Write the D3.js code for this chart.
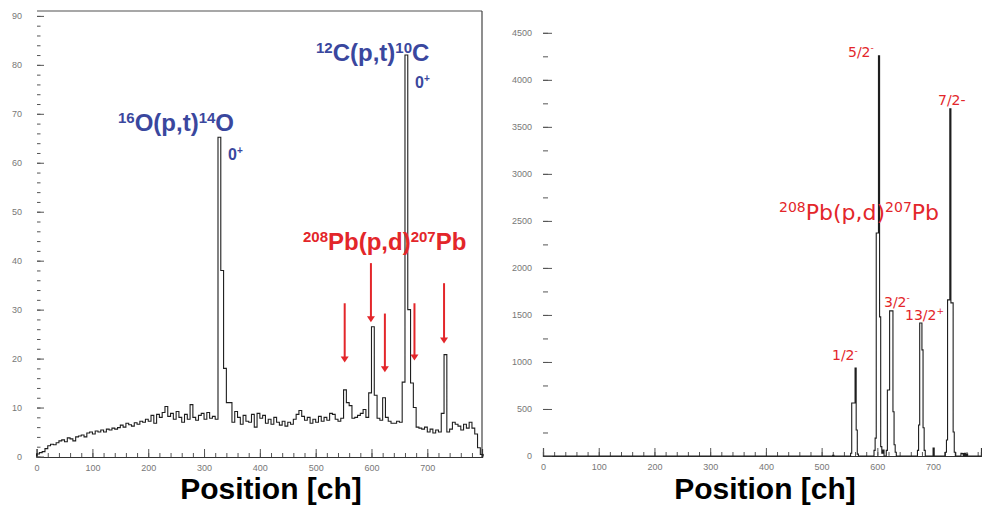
<!DOCTYPE html>
<html>
<head>
<meta charset="utf-8">
<script src="https://cdn.jsdelivr.net/npm/d3@7/dist/d3.min.js"></script>
<style>
  html, body { margin: 0; padding: 0; background: #fff; }
  svg { display: block; }
</style>
</head>
<body>
<svg id="chart" width="982" height="507"></svg>
<script>
// ---------------- DATA ----------------
// Left spectrum: counts per 5-channel bin, channels 0..800
const leftBinWidth = 5;
const leftCounts = [
  0.5, 0.8, 1.0, 1.6, 2.2, 2.5, 2.4, 2.8, 3.2, 3.4,
  3.0, 3.8, 3.6, 3.2, 4.0, 4.2, 4.4, 4.0, 4.8, 5.0,
  4.6, 5.2, 5.0, 5.4, 5.0, 5.6, 5.4, 5.8, 5.6, 5.9,
  6.4, 6.0, 6.8, 6.5, 6.2, 6.9, 6.6, 7.2, 7.0, 7.6,
  7.2, 8.4, 6.8, 8.6, 8.0, 9.0, 10.2, 8.2, 8.8, 7.6,
  9.2, 8.0, 7.0, 8.6, 7.6, 10.6, 8.0, 7.4, 8.4, 8.8,
  7.6, 9.0, 7.8, 8.2, 7.6, 65.2, 38.0, 18.0, 11.0, 11.0,
  7.0, 9.2, 8.0, 6.6, 8.4, 7.2, 7.0, 8.6, 6.0, 8.8,
  7.8, 8.4, 6.8, 7.6, 6.6, 8.0, 7.0, 6.4, 7.2, 6.2,
  7.0, 6.6, 7.6, 8.6, 9.4, 8.2, 7.4, 8.0, 6.8, 7.6,
  7.0, 8.2, 7.2, 8.0, 7.4, 8.8, 8.6, 7.6, 7.2, 7.8,
  13.6, 11.0, 10.4, 7.8, 8.0, 8.4, 8.8, 9.6, 8.0, 13.0,
  26.5, 12.5, 7.8, 7.4, 12.0, 8.0, 7.2, 6.8, 6.8, 7.2,
  7.0, 15.2, 82.0, 30.0, 15.0, 10.0, 6.0, 5.8, 5.6, 6.0,
  5.0, 5.6, 4.8, 5.4, 5.0, 8.8, 20.8, 5.0, 5.6, 7.0,
  6.6, 6.2, 5.4, 6.6, 5.8, 7.0, 5.8, 4.6, 1.8, 0.4
];

// Right spectrum: non-zero 2-channel bins (start channel, counts)
const rightBinWidth = 2;
const rightBinStarts = [
  520,
  552, 554, 556, 558, 560, 562, 564,
  594, 596, 598, 600, 602, 604, 606, 608,
  610,
  616, 618, 620, 622, 624, 626, 628, 630, 632,
  672, 674, 676, 678, 680, 682, 684,
  700,
  722, 724, 726, 728, 730, 732, 734, 736, 738,
  750, 752, 756, 760
];
const rightCounts = [
  8,
  30, 564, 564, 564, 936, 277, 20,
  60, 190, 2372, 2372, 4255, 1479, 100, 30,
  64,
  60, 702, 702, 1543, 1543, 1543, 470, 120, 40,
  60, 330, 1415, 1415, 1128, 300, 60,
  85,
  40, 170, 1660, 1660, 3691, 1628, 1628, 255, 40,
  30, 25, 30, 20
];

// Axis ticks
const leftXTicks = [0, 100, 200, 300, 400, 500, 600, 700];
const leftYTicks = [0, 10, 20, 30, 40, 50, 60, 70, 80, 90];
const rightXTicks = [0, 100, 200, 300, 400, 500, 600, 700];
const rightYTicks = [0, 500, 1000, 1500, 2000, 2500, 3000, 3500, 4000, 4500];

// Red arrows in left panel (channel, tail value, tip value)
const arrowChannels = [552, 599, 624, 677, 730];
const arrowTailValues = [31.3, 39.5, 29.2, 31.3, 35.4];
const arrowTipValues = [19.2, 27.4, 17.2, 19.6, 23.1];

// Labels
const axisTitle = "Position [ch]";
const rightStateLabels = [
  { parts: [["5/2", false], ["-", true]], x: 848, y: 57 },
  { parts: [["7/2-", false]], x: 938, y: 105 },
  { parts: [["3/2", false], ["-", true]], x: 884, y: 307 },
  { parts: [["13/2", false], ["+", true]], x: 905, y: 320 },
  { parts: [["1/2", false], ["-", true]], x: 832, y: 360 }
];

// ---------------- DRAW ----------------
const svg = d3.select("#chart");
const RED = "#e3262a";
const BLUE = "#3a479e";
const tickFont = "Liberation Sans, Arial, sans-serif";
const intFmt = d3.format("d");

function richText(g, x, y, parts, opt) {
  const t = g.append("text")
    .attr("x", x).attr("y", y)
    .attr("font-family", opt.family)
    .attr("font-weight", opt.weight)
    .attr("font-size", opt.size)
    .attr("fill", opt.color);
  let shift = 0;
  parts.forEach(([s, sup]) => {
    const target = sup ? -opt.supShift : 0;
    t.append("tspan")
      .attr("dy", target - shift)
      .attr("font-size", sup ? opt.supSize : opt.size)
      .text(s);
    shift = target;
  });
  return t;
}

function stepPoints(binStarts, counts, width) {
  const pts = [];
  binStarts.forEach((s, i) => {
    pts.push([s, counts[i]]);
    pts.push([s + width, counts[i]]);
  });
  return pts;
}

function styleAxis(sel, showDomain) {
  sel.select(".domain").attr("stroke", showDomain ? "#333" : "none").attr("stroke-width", 1.2);
  sel.selectAll(".tick line").attr("stroke", "#555").attr("stroke-width", 1);
  sel.selectAll(".tick text").attr("fill", "#777").attr("font-size", 9).attr("font-family", tickFont);
}

// ===== LEFT PANEL =====
const lx = d3.scaleLinear().domain([0, 798]).range([36.6, 482]);
const ly = d3.scaleLinear().domain([0, 91]).range([456.5, 11]);
const left = svg.append("g");

// frame (top + right)
left.append("line").attr("x1", 37).attr("x2", 482).attr("y1", 11).attr("y2", 11)
  .attr("stroke", "#8a8a8a").attr("stroke-width", 1.5);
left.append("line").attr("x1", 482).attr("x2", 482).attr("y1", 11).attr("y2", 457)
  .attr("stroke", "#444").attr("stroke-width", 1.2);

const lxMajor = d3.axisBottom(lx).tickValues(leftXTicks).tickSize(-8).tickPadding(8).tickFormat(intFmt);
const lxMinor = d3.axisBottom(lx).tickValues(d3.range(0, 790, 20)).tickSize(-4).tickFormat("");
const lyMajor = d3.axisLeft(ly).tickValues(leftYTicks).tickSize(-7).tickPadding(15).tickFormat(intFmt);
const lyMinor = d3.axisLeft(ly).tickValues(d3.range(0, 91, 2)).tickSize(-3.5).tickFormat("");

left.append("g").attr("transform", "translate(0,457)").call(lxMinor).call(s => styleAxis(s, true));
left.append("g").attr("transform", "translate(0,457)").call(lxMajor).call(s => styleAxis(s, true));
left.append("g").attr("transform", "translate(37,0)").call(lyMinor).call(s => styleAxis(s, false));
left.append("g").attr("transform", "translate(37,0)").call(lyMajor).call(s => styleAxis(s, false));

// histogram
const leftStarts = leftCounts.map((_, i) => i * leftBinWidth);
const leftPts = [[0, 0]].concat(stepPoints(leftStarts, leftCounts, leftBinWidth)).concat([[800, 0]]);
left.append("path")
  .attr("d", d3.line().x(d => lx(d[0])).y(d => ly(d[1]))(leftPts))
  .attr("fill", "none").attr("stroke", "#1e1e1e").attr("stroke-width", 1.1);

// arrows
arrowChannels.forEach((c, i) => {
  const x = lx(c), y0 = ly(arrowTailValues[i]), y1 = ly(arrowTipValues[i]);
  left.append("line").attr("x1", x).attr("x2", x).attr("y1", y0).attr("y2", y1 - 5)
    .attr("stroke", RED).attr("stroke-width", 2);
  left.append("path")
    .attr("d", `M${x - 4},${y1 - 6} L${x + 4},${y1 - 6} L${x},${y1} Z`)
    .attr("fill", RED);
});

// labels
const boldFam = "Liberation Sans, Arial, sans-serif";
richText(left, 118, 131, [["16", true], ["O(p,t)", false], ["14", true], ["O", false]],
  { family: boldFam, weight: "bold", size: 24, supSize: 15, supShift: 8, color: BLUE });
richText(left, 316, 61, [["12", true], ["C(p,t)", false], ["10", true], ["C", false]],
  { family: boldFam, weight: "bold", size: 24, supSize: 15, supShift: 8, color: BLUE });
richText(left, 228, 160, [["0", false], ["+", true]],
  { family: boldFam, weight: "bold", size: 16, supSize: 10, supShift: 6, color: BLUE });
richText(left, 415, 88, [["0", false], ["+", true]],
  { family: boldFam, weight: "bold", size: 16, supSize: 10, supShift: 6, color: BLUE });
richText(left, 303, 250, [["208", true], ["Pb(p,d)", false], ["207", true], ["Pb", false]],
  { family: boldFam, weight: "bold", size: 24, supSize: 15, supShift: 8, color: RED });

left.append("text").attr("x", 271).attr("y", 499).attr("text-anchor", "middle")
  .attr("font-family", boldFam).attr("font-weight", "bold")
  .attr("font-size", 30).attr("fill", "#000").text(axisTitle);

// ===== RIGHT PANEL =====
const rx = d3.scaleLinear().domain([0, 786]).range([543, 981]);
const ry = d3.scaleLinear().domain([0, 4700]).range([456, 14]);
const right = svg.append("g");

const rxMajor = d3.axisBottom(rx).tickValues(rightXTicks).tickSize(-8).tickPadding(8).tickFormat(intFmt);
const rxMinor = d3.axisBottom(rx).tickValues(d3.range(0, 781, 20)).tickSize(-4).tickFormat("");
const ryMajor = d3.axisLeft(ry).tickValues(rightYTicks).tickSize(-9).tickPadding(11).tickFormat(intFmt);
const ryMinor = d3.axisLeft(ry).tickValues(d3.range(0, 4701, 250)).tickSize(-5).tickFormat("");

right.append("g").attr("transform", "translate(0,456)").call(rxMinor).call(s => styleAxis(s, true));
right.append("g").attr("transform", "translate(0,456)").call(rxMajor).call(s => styleAxis(s, true));
right.append("g").attr("transform", "translate(543,0)").call(ryMinor).call(s => styleAxis(s, false));
right.append("g").attr("transform", "translate(543,0)").call(ryMajor).call(s => styleAxis(s, false));

// full right histogram built from sparse bins
const nRight = Math.ceil(786 / rightBinWidth);
const rightFull = new Array(nRight).fill(0);
rightBinStarts.forEach((s, i) => { rightFull[Math.round(s / rightBinWidth)] = rightCounts[i]; });
const rightStarts = rightFull.map((_, i) => i * rightBinWidth);
const rightPts = stepPoints(rightStarts, rightFull, rightBinWidth);
right.append("path")
  .attr("d", d3.line().x(d => rx(d[0])).y(d => ry(d[1]))(rightPts))
  .attr("fill", "none").attr("stroke", "#1e1e1e").attr("stroke-width", 1.1);

// labels
const normFam = "DejaVu Sans, Verdana, sans-serif";
richText(right, 779, 220, [["208", true], ["Pb(p,d)", false], ["207", true], ["Pb", false]],
  { family: normFam, weight: "normal", size: 22, supSize: 14, supShift: 8, color: RED });
rightStateLabels.forEach(l => {
  richText(right, l.x, l.y, l.parts,
    { family: normFam, weight: "normal", size: 14, supSize: 9, supShift: 6, color: RED });
});

right.append("text").attr("x", 765).attr("y", 499).attr("text-anchor", "middle")
  .attr("font-family", boldFam).attr("font-weight", "bold")
  .attr("font-size", 30).attr("fill", "#000").text(axisTitle);
</script>
</body>
</html>
